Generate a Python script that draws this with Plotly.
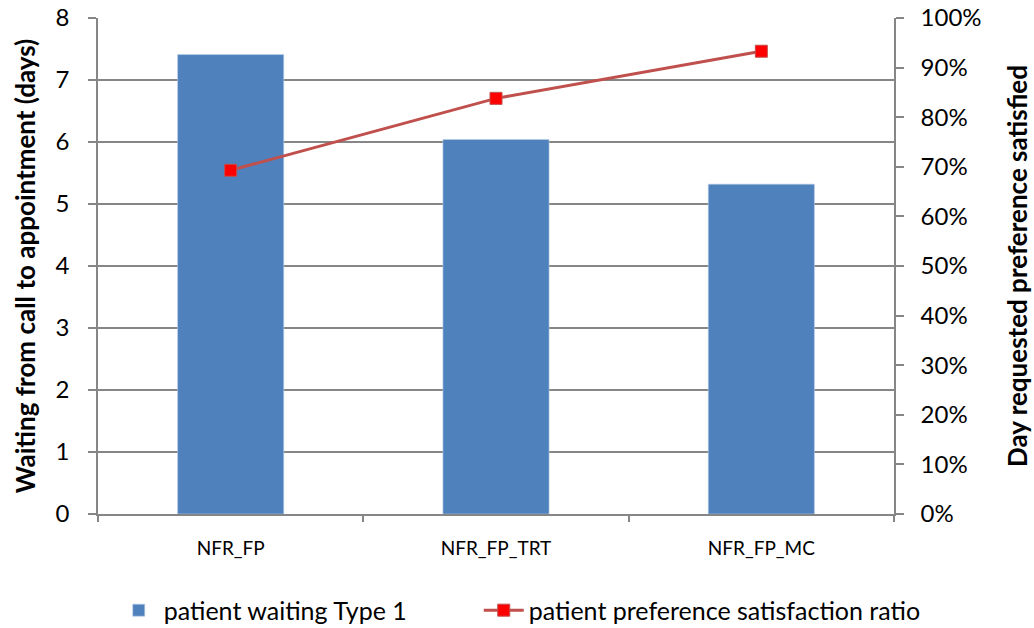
import plotly.graph_objects as go

# Scenario labels and measured outcomes
scenarios = ["NFR_FP", "NFR_FP_TRT", "NFR_FP_MC"]
waiting_days = [7.41, 6.04, 5.32]
satisfaction_pct = [69.3, 83.8, 93.3]

left_ticks = [0, 1, 2, 3, 4, 5, 6, 7, 8]
right_ticks = [0, 10, 20, 30, 40, 50, 60, 70, 80, 90, 100]
right_tick_text = [f"{v}%" for v in right_ticks]

FONT = "Lato, 'Open Sans', sans-serif"
GRID = "#868686"

fig = go.Figure()

fig.add_trace(go.Bar(
    x=scenarios,
    y=waiting_days,
    name="patient waiting Type 1",
    marker=dict(color="#4F81BD", line=dict(color="#B9CDE5", width=0.6)),
    width=0.4,
    yaxis="y",
    legend="legend",
))

fig.add_trace(go.Scatter(
    x=scenarios,
    y=satisfaction_pct,
    name="patient preference satisfaction ratio",
    mode="lines+markers",
    line=dict(color="#C0504D", width=3),
    marker=dict(symbol="square", size=12, color="#FF0000",
                line=dict(color="#C0504D", width=1)),
    yaxis="y2",
    legend="legend2",
))

legend_common = dict(
    orientation="h",
    xref="container", yref="container",
    xanchor="left",
    y=0.028, yanchor="middle",
    font=dict(size=25, family=FONT),
    itemwidth=40,
    bgcolor="rgba(0,0,0,0)",
)

fig.update_layout(
    width=1034,
    height=628,
    margin=dict(l=98, r=140, t=18, b=114, autoexpand=False),
    paper_bgcolor="white",
    plot_bgcolor="white",
    font=dict(family=FONT, color="#000000"),
    showlegend=True,
    legend=dict(x=0.110, **legend_common),
    legend2=dict(x=0.463, **legend_common),
    xaxis=dict(
        type="category",
        showgrid=False,
        showline=True,
        linecolor=GRID,
        linewidth=1.5,
        ticks="outside",
        tickson="boundaries",
        ticklen=6,
        tickcolor=GRID,
        tickwidth=1.5,
        tickfont=dict(size=19, family=FONT),
        ticklabelstandoff=16,
        range=[-0.5, 2.5],
    ),
    yaxis=dict(
        range=[0, 8],
        tickvals=left_ticks,
        showgrid=True,
        gridcolor=GRID,
        gridwidth=1.5,
        showline=True,
        linecolor=GRID,
        linewidth=1.5,
        ticks="outside",
        ticklen=8,
        tickcolor=GRID,
        tickwidth=1.5,
        tickfont=dict(size=24, family=FONT),
        ticklabelstandoff=14,
        zeroline=False,
        title=dict(text="<b>Waiting from call to appointment (days)</b>",
                   font=dict(size=26, family=FONT), standoff=12),
    ),
    yaxis2=dict(
        range=[0, 100],
        tickvals=right_ticks,
        ticktext=right_tick_text,
        overlaying="y",
        side="right",
        showgrid=False,
        showline=True,
        linecolor=GRID,
        linewidth=1.5,
        ticks="outside",
        ticklen=8,
        tickcolor=GRID,
        tickwidth=1.5,
        tickfont=dict(size=24, family=FONT),
        ticklabelstandoff=12,
        zeroline=False,
        title=dict(text="<b>Day requested preference satisfied</b>",
                   font=dict(size=26, family=FONT), standoff=28),
    ),
)

fig.write_html("out.html")
